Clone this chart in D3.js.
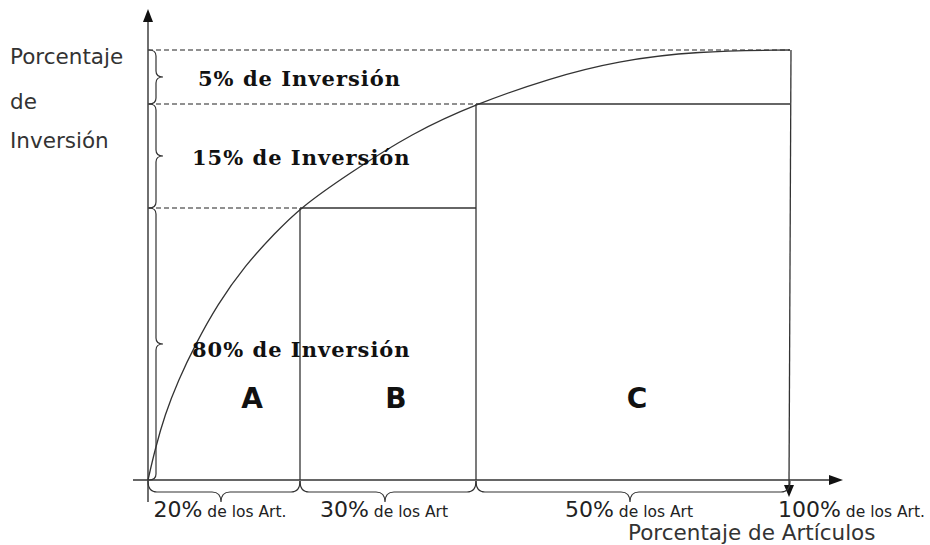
<!DOCTYPE html>
<html>
<head>
<meta charset="utf-8">
<script src="https://cdn.jsdelivr.net/npm/d3@7"></script>
<style>
    body { margin: 0; background: #fff; }
    .ax { stroke: #333; stroke-width: 1.4; fill: none; }
    .guide { stroke: #222; stroke-width: 1.2; stroke-dasharray: 5,3; fill: none; }
    .box { stroke: #333; stroke-width: 1.3; fill: none; }
    .curve { stroke: #333; stroke-width: 1.3; fill: none; }
    .brace { stroke: #333; stroke-width: 1.2; fill: none; }
    .side-label { font-family: "DejaVu Sans", Verdana, sans-serif; font-size: 21.5px; fill: #333; }
    .band-label { font-family: "DejaVu Serif", serif; font-weight: bold; font-size: 21px; letter-spacing: 1px; fill: #111; }
    .class-label { font-family: "DejaVu Sans", sans-serif; font-weight: bold; font-size: 28px; fill: #111; }
    .art-label { font-family: "DejaVu Sans", Verdana, sans-serif; fill: #222; }
</style>
</head>
<body>
<svg id="chart"></svg>
<script>
// ABC classes and their cut points (cumulative %)
const classes = ["A", "B", "C"];
const articleCuts = [0, 20, 50, 100];      // % of articles
const investCuts = [0, 80, 95, 100];       // % of investment
const investLabels = ["80% de Inversión", "15% de Inversión", "5% de Inversión"];
const articlePct = ["20%", "30%", "50%", "100%"];
const articleSuffix = ["de los Art.", "de los Art", "de los Art", "de los Art."];

// cumulative investment curve
const curveArt = [0, 0.9, 2.2, 4.0, 6.2, 9.1, 12.8, 16.7, 20, 28.0, 39.3, 50, 61.8, 72.5, 85.2, 100];
const curveInv = [0, 8.8, 19.1, 29.4, 39.7, 51.5, 63.2, 72.6, 80, 84.8, 90.9, 95, 97.4, 99.0, 99.9, 100];

const W = 930, H = 545;
const svg = d3.select("#chart").attr("width", W).attr("height", H);

// schematic (non-uniform) axes: each segment gets its own span
const x = d3.scaleLinear().domain(articleCuts).range([148, 300, 476, 790]);
const y = d3.scaleLinear().domain(investCuts).range([480, 208, 104, 50]);

const x0 = x(0), y0 = y(0);

// axes with arrow heads
svg.append("line").attr("class", "ax")
    .attr("x1", x0).attr("x2", x0).attr("y1", y0 + 22).attr("y2", 20);
svg.append("path").attr("fill", "#111")
    .attr("d", `M${x0},9 L${x0 - 5},22 L${x0 + 5},22 Z`);
svg.append("line").attr("class", "ax")
    .attr("x1", x0 - 15).attr("x2", 832).attr("y1", y0).attr("y2", y0);
svg.append("path").attr("fill", "#111")
    .attr("d", `M843,${y0} L829,${y0 - 5} L829,${y0 + 5} Z`);

// dashed guides from the y axis to each cut
investCuts.slice(1).forEach((v, i) => {
    svg.append("line").attr("class", "guide")
        .attr("x1", x0).attr("x2", x(articleCuts[i + 1]))
        .attr("y1", y(v)).attr("y2", y(v));
});

// boxes for B and C
for (let i = 1; i < 3; i++) {
    svg.append("line").attr("class", "box")
        .attr("x1", x(articleCuts[i])).attr("x2", x(articleCuts[i + 1]))
        .attr("y1", y(investCuts[i])).attr("y2", y(investCuts[i]));
}
articleCuts.slice(1, 3).forEach((v, i) => {
    svg.append("line").attr("class", "box")
        .attr("x1", x(v)).attr("x2", x(v))
        .attr("y1", y(investCuts[i + 1])).attr("y2", y0);
});
// 100% line going down past the axis
const xEnd = x(100);
svg.append("line").attr("class", "box")
    .attr("x1", xEnd + 1).attr("x2", xEnd - 1)
    .attr("y1", y(100)).attr("y2", y0 + 6);
svg.append("path").attr("fill", "#111")
    .attr("d", `M${xEnd - 1},${y0 + 17} L${xEnd - 6},${y0 + 5} L${xEnd + 4},${y0 + 5} Z`);

// curve
const pts = curveArt.map((d, i) => [x(d), y(curveInv[i])]);
svg.append("path").attr("class", "curve")
    .attr("d", d3.line().curve(d3.curveBasis)(pts));

// curly braces
function braceV(bx, ya, yb, s, w) {
    const ym = (ya + yb) / 2, r = 6;
    return `M${bx},${ya} Q${bx + s},${ya} ${bx + s},${ya + r} L${bx + s},${ym - r} Q${bx + s},${ym} ${bx + w},${ym}` +
        ` Q${bx + s},${ym} ${bx + s},${ym + r} L${bx + s},${yb - r} Q${bx + s},${yb} ${bx},${yb}`;
}
function braceH(by, xa, xb, s, h) {
    const xm = (xa + xb) / 2 - 3, r = 9;
    return `M${xa},${by} Q${xa},${by + s} ${xa + r},${by + s} L${xm - r},${by + s} Q${xm},${by + s} ${xm},${by + h}` +
        ` Q${xm},${by + s} ${xm + r},${by + s} L${xb - r},${by + s} Q${xb},${by + s} ${xb},${by}`;
}
for (let i = 0; i < 3; i++) {
    svg.append("path").attr("class", "brace")
        .attr("d", braceV(x0 + 1, y(investCuts[i + 1]), y(investCuts[i]), 7, 14));
    svg.append("path").attr("class", "brace")
        .attr("d", braceH(y0 + 1, x(articleCuts[i]), x(articleCuts[i + 1]), 11, 21));
}

// left title
["Porcentaje", "de", "Inversión"].forEach((t, i) => {
    svg.append("text").attr("class", "side-label")
        .attr("x", 10).attr("y", [64, 109, 148][i]).text(t);
});

// band labels
investLabels.forEach((t, i) => {
    const mid = (y(investCuts[i]) + y(investCuts[i + 1])) / 2;
    svg.append("text").attr("class", "band-label")
        .attr("x", i === 2 ? 198 : 192).attr("y", mid + (i === 0 ? 6 : 2))
        .attr("dy", "0.35em").text(t);
});

// class letters
const classShift = [28, 8, 4];
classes.forEach((c, i) => {
    svg.append("text").attr("class", "class-label")
        .attr("text-anchor", "middle")
        .attr("x", (x(articleCuts[i]) + x(articleCuts[i + 1])) / 2 + classShift[i])
        .attr("y", 408).text(c);
});

// article labels under the braces
articlePct.forEach((p, i) => {
    const t = svg.append("text").attr("class", "art-label").attr("y", 517);
    if (i < 3) {
        t.attr("text-anchor", "middle").attr("x", (x(articleCuts[i]) + x(articleCuts[i + 1])) / 2 - 4);
    } else {
        t.attr("text-anchor", "start").attr("x", xEnd - 12);
    }
    t.append("tspan").attr("font-size", 22).text(p);
    t.append("tspan").attr("font-size", 15.5).text(" " + articleSuffix[i]);
});

svg.append("text").attr("class", "side-label")
    .attr("x", 628).attr("y", 540).text("Porcentaje de Artículos");
</script>
</body>
</html>
